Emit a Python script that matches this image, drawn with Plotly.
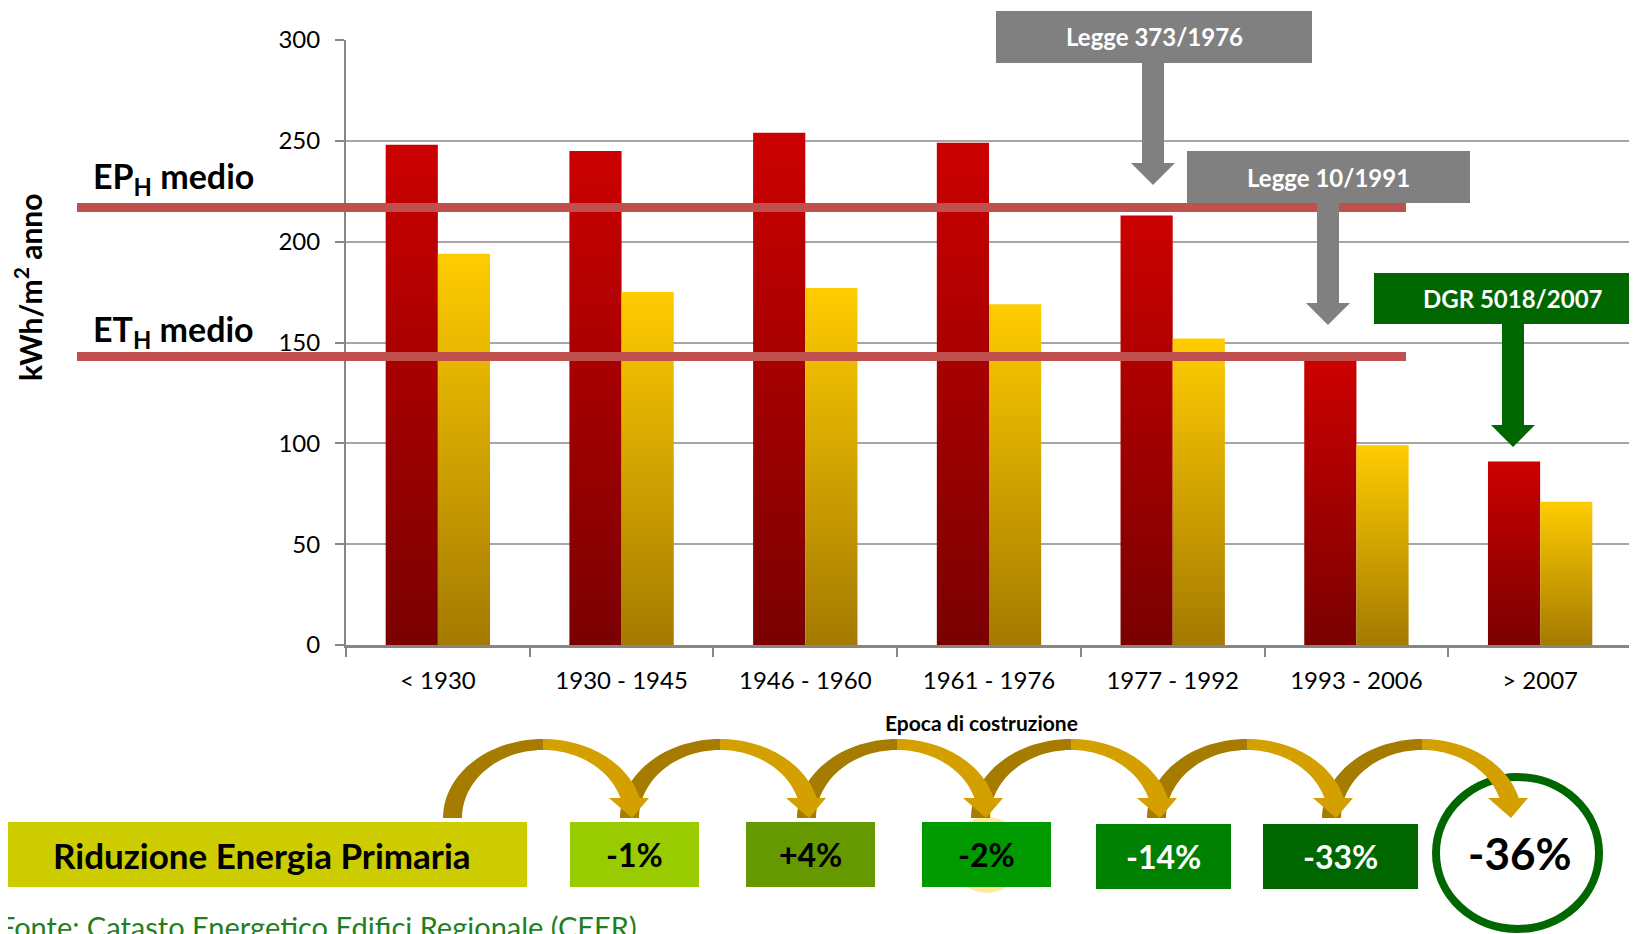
import numpy as np
import plotly.graph_objects as go

# data
periods = ["< 1930", "1930 - 1945", "1946 - 1960", "1961 - 1976", "1977 - 1992", "1993 - 2006", "> 2007"]
ep_h = [248, 245, 254, 249, 213, 141, 91]      # energia primaria (red)
et_h = [194, 175, 177, 169, 152, 99, 71]       # energia termica (yellow)
ep_medio = 217
et_medio = 143
laws = ["Legge 373/1976", "Legge 10/1991", "DGR 5018/2007"]
reduction_title = "Riduzione Energia Primaria"
reductions = ["-1%", "+4%", "-2%", "-14%", "-33%", "-36%"]
source = "Fonte: Catasto Energetico Edifici Regionale (CEER)"

# the page has an 8px body margin, so the figure is a bit smaller than the window
W, H = 1629, 926
PL, PR, PT, PB = 346, 1632, 40, 645          # plot area in window pixels
pw, ph = PR - PL, PB - PT
FONT = "Lato, 'Liberation Sans', sans-serif"


def px(x):
    return (x - PL) / pw


def py(y):
    return (PB - y) / ph


def path(points):
    return "M " + " L ".join(f"{px(x):.5f},{py(y):.5f}" for x, y in points) + " Z"


def label(x, y, text, size, color="black", bold=True, **kw):
    d = dict(xref="paper", yref="paper", x=px(x), y=py(y), text=text, showarrow=False,
             xanchor="center", yanchor="middle",
             font=dict(family=FONT, size=size, color=color, weight="bold" if bold else "normal"))
    d.update(kw)
    return d


fig = go.Figure()

# bars with a vertical gradient, one polygon per bar
bw = 0.284
for i, (a, b) in enumerate(zip(ep_h, et_h)):
    for x0, v, cs in [(i - bw, a, [[0, "#7A0000"], [1, "#CC0000"]]),
                      (i, b, [[0, "#A47A00"], [1, "#FFCC00"]])]:
        fig.add_trace(go.Scatter(
            x=[x0, x0, x0 + bw, x0 + bw, x0], y=[0, v, v, 0, 0],
            mode="lines", fill="toself", line=dict(width=0),
            fillgradient=dict(type="vertical", colorscale=cs, start=0, stop=v),
            hoverinfo="skip", showlegend=False))

shapes = []
ann = []

# average lines
for val in [ep_medio, et_medio]:
    shapes.append(dict(type="line", xref="paper", yref="y", x0=px(77), x1=px(1406), y0=val, y1=val,
                       line=dict(color="#C0504D", width=9), layer="above"))
ann.append(label(91, 178, "EP<sub>H</sub> medio", 34, xanchor="left"))
ann.append(label(91, 331, "ET<sub>H</sub> medio", 34, xanchor="left"))

# law callouts: box + arrow pointing down
callouts = [
    dict(box=(996, 1312, 11, 63), shaft=(1142, 1164), head=(163, 185), wing=(1131, 1175), color="#808080", tx=1154),
    dict(box=(1187, 1470, 151, 203), shaft=(1317, 1339), head=(303, 325), wing=(1306, 1350), color="#808080", tx=1328),
    dict(box=(1374, 1640, 273, 324), shaft=(1502, 1524), head=(425, 447), wing=(1491, 1535), color="#006600", tx=1513),
]
for c, lab in zip(callouts, laws):
    x0, x1, y0, y1 = c["box"]
    s0, s1 = c["shaft"]
    h0, h1 = c["head"]
    w0, w1 = c["wing"]
    shapes.append(dict(type="path", xref="paper", yref="paper", layer="above",
                       path=path([(s0, y1), (s1, y1), (s1, h0), (w1, h0), ((w0 + w1) / 2, h1), (w0, h0), (s0, h0)]),
                       fillcolor=c["color"], line=dict(width=0)))
    shapes.append(dict(type="rect", xref="paper", yref="paper", layer="above",
                       x0=px(x0), x1=px(x1), y0=py(y1), y1=py(y0), fillcolor=c["color"], line=dict(width=0)))
    ann.append(label(c["tx"], (y0 + y1) / 2, lab, 24, "white"))

# bottom strip
shapes.append(dict(type="rect", xref="paper", yref="paper", x0=px(0), x1=px(527), y0=py(887), y1=py(822),
                   fillcolor="#CCCC00", line=dict(width=0), layer="above"))
ann.append(label(262, 855, reduction_title, 35))

# pale halo behind -2%
shapes.append(dict(type="circle", xref="paper", yref="paper", x0=px(949), x1=px(1025), y0=py(893), y1=py(817),
                   fillcolor="#FFE9A0", line=dict(width=0), layer="above"))

boxes = [(570, 699, 822, 887, "#99CC00", "black"),
         (746, 875, 822, 887, "#669900", "black"),
         (922, 1051, 822, 887, "#009900", "black"),
         (1096, 1231, 824, 889, "#008000", "white"),
         (1263, 1418, 824, 889, "#006600", "white")]
for (x0, x1, y0, y1, fc, tc), lab in zip(boxes, reductions[:5]):
    shapes.append(dict(type="rect", xref="paper", yref="paper", x0=px(x0), x1=px(x1), y0=py(y1), y1=py(y0),
                       fillcolor=fc, line=dict(width=0), layer="above"))
    ann.append(label((x0 + x1) / 2, (y0 + y1) / 2, lab, 32, tc))

shapes.append(dict(type="circle", xref="paper", yref="paper", x0=px(1436), x1=px(1599), y0=py(929), y1=py(777),
                   fillcolor="rgba(0,0,0,0)", line=dict(color="#006600", width=8), layer="above"))
ann.append(label(1520, 853, reductions[5], 44))

# curved arrows between the boxes
base, rxo, ryo, rxi, ryi = 818, 100, 79, 81, 68
centers = [543, 720, 897, 1071, 1247, 1422]
for cx in reversed(centers):
    t_dark = np.linspace(np.pi, np.pi / 2, 30)
    dark = [(cx + rxo * np.cos(t), base - ryo * np.sin(t)) for t in t_dark] + \
           [(cx + rxi * np.cos(t), base - ryi * np.sin(t)) for t in t_dark[::-1]]
    to = np.linspace(np.pi / 2, np.arcsin(20 / ryo), 30)
    ti = np.linspace(np.arcsin(20 / ryi), np.pi / 2, 30)
    light = [(cx + rxo * np.cos(t), base - ryo * np.sin(t)) for t in to] + \
            [(cx + rxi * np.cos(t), base - ryi * np.sin(t)) for t in ti]
    tip = cx + 89
    head = [(tip - 23, 798), (tip + 17, 798), (tip, 818)]
    for pts, col in [(dark, "#A67C00"), (light, "#D4A000"), (head, "#D4A000")]:
        shapes.append(dict(type="path", xref="paper", yref="paper", path=path(pts),
                           fillcolor=col, line=dict(width=0), layer="above"))

# axis titles and source
ann.append(label(981, 722, "Epoca di costruzione", 21))
ann.append(label(28, 287, "kWh/m<sup>2</sup> anno", 30, textangle=-90))
ann.append(label(-3, 926, source, 29, "#1F7F1F", bold=False, xanchor="left"))

fig.update_layout(
    width=W, height=H,
    margin=dict(l=PL - 8, r=W - (PR - 8), t=PT - 8, b=H - (PB - 8), autoexpand=False),
    paper_bgcolor="white", plot_bgcolor="white", showlegend=False,
    font=dict(family=FONT, size=24, color="black"),
    shapes=shapes, annotations=ann,
    xaxis=dict(range=[-0.5, 6.5], tickmode="array", tickvals=list(range(7)), ticktext=periods,
               ticks="", showgrid=False, zeroline=False, showline=True, linecolor="#868686", linewidth=3,
               ticklabelstandoff=12, tickfont=dict(size=24),
               minor=dict(tickmode="array", tickvals=[i - 0.5 for i in range(8)], ticks="outside",
                          ticklen=9, tickwidth=2, tickcolor="#868686", showgrid=False)),
    yaxis=dict(range=[0, 300], dtick=50, showgrid=True, gridcolor="#A6A6A6", gridwidth=2, zeroline=False,
               showline=True, linecolor="#868686", linewidth=2, ticks="outside", ticklen=9, tickwidth=2,
               tickcolor="#868686", ticklabelstandoff=10, tickfont=dict(size=24)),
)

fig.write_html("out.html")
